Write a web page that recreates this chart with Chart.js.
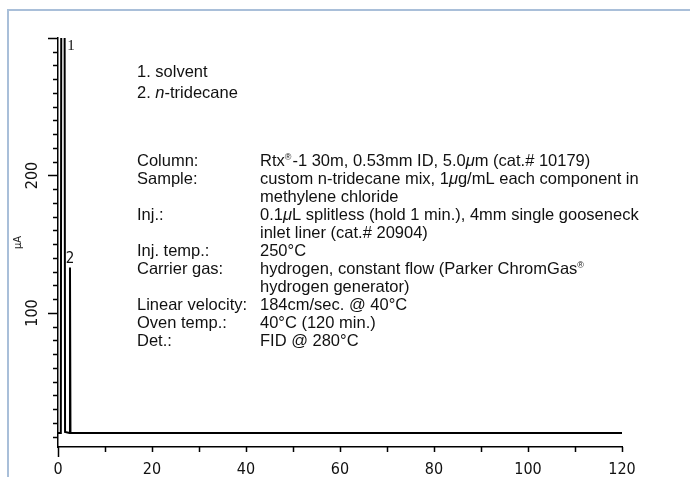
<!DOCTYPE html>
<html>
<head>
<meta charset="utf-8">
<script src="https://cdn.jsdelivr.net/npm/chart.js@4.4.1/dist/chart.umd.min.js"></script>
<style>
  body { margin: 0; background: #fff; }
  #wrap { position: relative; width: 690px; height: 477px; }
  #frame { position: absolute; left: 7px; top: 9px; right: 0; bottom: 0;
           border-left: 2px solid #a9bfd9; border-top: 2px solid #a9bfd9; pointer-events: none; }
</style>
</head>
<body>
<div id="wrap">
  <canvas id="gcChart"></canvas>
  <div id="frame"></div>
</div>
<script>
const timeMin = [0, 0.6, 0.7, 1.4, 1.5, 2.45, 2.55, 2.65, 120];
const signal  = [12.7, 12.7, 330, 330, 13.5, 12.7, 133, 12.7, 12.7];

// Picos identificados
const peakNames = ['1', '2'];
const peakTimes = [1.05, 2.55];
const peakHeights = [300, 133];

// Marcas de los ejes
const yTickValues = [10, 20, 30, 40, 50, 60, 70, 80, 90, 100, 110, 120, 130, 140, 150,
                     160, 170, 180, 190, 200, 210, 220, 230, 240, 250, 260, 270, 280, 290, 300];
const yLabelValues = [100, 200];
const xLabelValues = [0, 20, 40, 60, 80, 100, 120];

const bodyFont = '16.5px "Liberation Sans", Arial, sans-serif';
const italicFont = 'italic 16.5px "Liberation Sans", Arial, sans-serif';
const supFont = '9px "Liberation Sans", Arial, sans-serif';
const narrow = '"Liberation Sans Narrow", "Arial Narrow", "DejaVu Sans Condensed", sans-serif';

const legendLines = [
    [['1. solvent']],
    [['2. '], ['n', 'i'], ['-tridecane']]
];

const noteLines = [
    ['Column:', [['Rtx'], ['®', 'sup'], ['-1 30m, 0.53mm ID, 5.0'], ['μ', 'i'], ['m (cat.# 10179)']]],
    ['Sample:', [['custom n-tridecane mix, 1'], ['μ', 'i'], ['g/mL each component in']]],
    ['', [['methylene chloride']]],
    ['Inj.:', [['0.1'], ['μ', 'i'], ['L splitless (hold 1 min.), 4mm single gooseneck']]],
    ['', [['inlet liner (cat.# 20904)']]],
    ['Inj. temp.:', [['250°C']]],
    ['Carrier gas:', [['hydrogen, constant flow (Parker ChromGas'], ['®', 'sup']]],
    ['', [['hydrogen generator)']]],
    ['Linear velocity:', [['184cm/sec. @ 40°C']]],
    ['Oven temp.:', [['40°C (120 min.)']]],
    ['Det.:', [['FID @ 280°C']]]
];

function drawRich(ctx, x, y, parts) {
    parts.forEach(function(p) {
        const kind = p[1];
        ctx.font = kind === 'i' ? italicFont : (kind === 'sup' ? supFont : bodyFont);
        const dy = kind === 'sup' ? -6 : 0;
        ctx.fillText(p[0], x, y + dy);
        x += ctx.measureText(p[0]).width + (kind === 'sup' ? 1 : 0);
    });
}

// Marcas de ejes, etiquetas de picos y condiciones
const annotations = {
    id: 'annotations',
    afterDraw(chart) {
        const ctx = chart.ctx;
        const xs = chart.scales.x, ys = chart.scales.y;
        const area = chart.chartArea;
        ctx.save();
        ctx.strokeStyle = '#000';
        ctx.lineWidth = 1.5;
        ctx.beginPath();
        ys.ticks.forEach(function(t) {
            const py = Math.round(ys.getPixelForValue(t.value)) + 0.5;
            const len = t.value % 100 === 0 ? 10 : 5;
            ctx.moveTo(area.left - len, py);
            ctx.lineTo(area.left, py);
        });
        xs.ticks.forEach(function(t) {
            const px = Math.round(xs.getPixelForValue(t.value)) + 0.5;
            const len = t.value === 0 ? 10 : 5;
            ctx.moveTo(px, area.bottom);
            ctx.lineTo(px, area.bottom + len);
        });
        ctx.stroke();

        ctx.fillStyle = '#111';
        ctx.textBaseline = 'alphabetic';
        ctx.textAlign = 'center';
        ctx.font = '15px "Liberation Serif", serif';
        ctx.fillText(peakNames[0], xs.getPixelForValue(peakTimes[0]) + 8, area.top + 12);
        ctx.font = '15px ' + narrow;
        ctx.fillText(peakNames[1], xs.getPixelForValue(peakTimes[1]), ys.getPixelForValue(peakHeights[1]) - 5);

        ctx.textAlign = 'left';
        drawRich(ctx, 137, 77, legendLines[0]);
        drawRich(ctx, 137, 98, legendLines[1]);
        noteLines.forEach(function(line, i) {
            const by = 166 + i * 18;
            ctx.font = bodyFont;
            if (line[0]) ctx.fillText(line[0], 137, by);
            drawRich(ctx, 260, by, line[1]);
        });
        ctx.restore();
    }
};

const config = {
    type: 'line',
    data: {
        datasets: [{
            data: timeMin.map(function(t, i) { return { x: t, y: signal[i] }; }),
            borderColor: '#000',
            borderWidth: 2,
            pointRadius: 0,
            tension: 0,
            fill: false
        }]
    },
    options: {
        responsive: true,
        maintainAspectRatio: false,
        animation: false,
        layout: { padding: { top: 38, right: 68, left: 0, bottom: 0 } },
        plugins: {
            legend: { display: false },
            tooltip: { enabled: false }
        },
        scales: {
            x: {
                type: 'linear',
                min: 0,
                max: 120,
                grid: { display: false, drawTicks: false },
                border: { display: true, color: '#000', width: 1.5 },
                ticks: {
                    stepSize: 10,
                    autoSkip: false,
                    maxRotation: 0,
                    padding: 13,
                    color: '#111',
                    font: { family: narrow, size: 16 },
                    callback: function(v) { return xLabelValues.includes(v) ? v : ''; }
                },
                afterFit: function(scale) { scale.height = 30; }
            },
            y: {
                type: 'linear',
                min: 2.5,
                max: 300,
                grid: { display: false, drawTicks: false },
                border: { display: true, color: '#000', width: 1.5 },
                afterBuildTicks: function(scale) {
                    scale.ticks = yTickValues.map(function(v) { return { value: v }; });
                },
                ticks: {
                    autoSkip: false,
                    minRotation: 90,
                    maxRotation: 90,
                    crossAlign: 'center',
                    padding: 11,
                    color: '#111',
                    font: { family: narrow, size: 16 },
                    callback: function(v) { return yLabelValues.includes(v) ? v : ''; }
                },
                title: {
                    display: true,
                    text: 'μA',
                    color: '#222',
                    font: { family: narrow, size: 11 },
                    padding: { top: 12, bottom: 0 }
                },
                afterFit: function(scale) { scale.width = 58; }
            }
        }
    },
    plugins: [annotations]
};

new Chart(document.getElementById('gcChart'), config);
</script>
</body>
</html>
